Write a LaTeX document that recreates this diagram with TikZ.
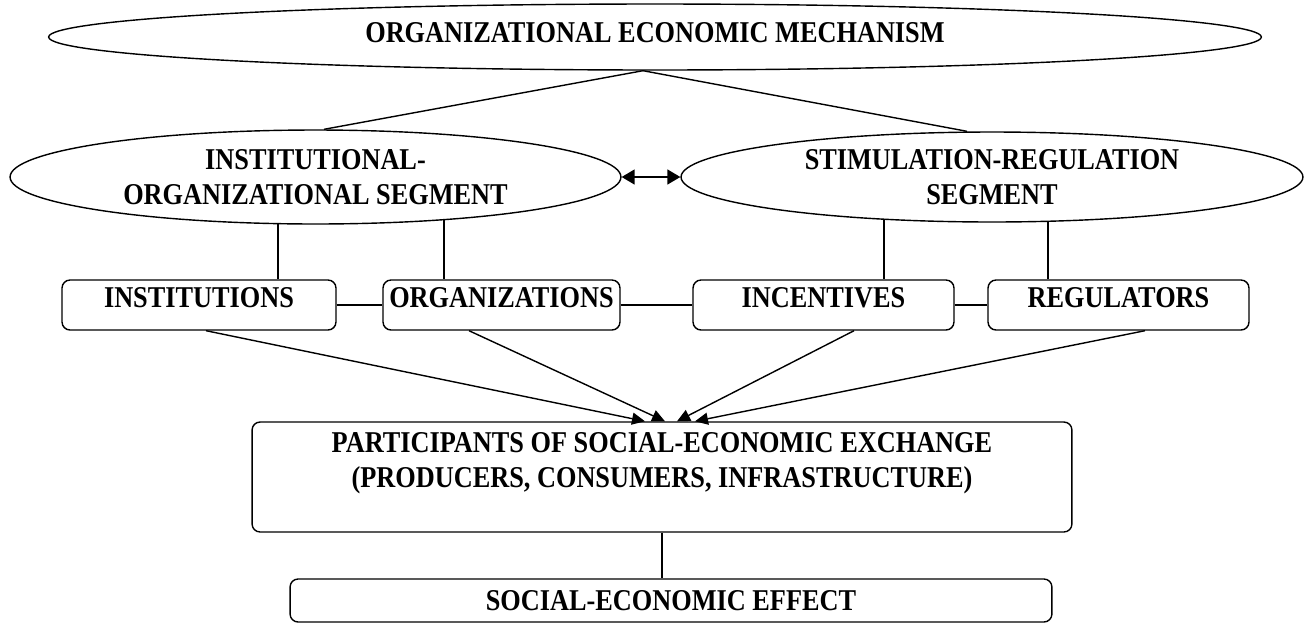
\documentclass[tikz,border=0pt]{standalone}
\usepackage{fontspec}
\setmainfont{Liberation Serif}[FakeStretch=0.87]
\usetikzlibrary{shapes.geometric,arrows.meta}

\begin{document}
\begin{tikzpicture}[x=0.02cm, y=-0.02cm, line width=0.8pt,
        font=\fontsize{17.2pt}{19.6pt}\selectfont\bfseries,
        seg/.style={ellipse, draw, inner sep=0pt, align=center},
        box/.style={rectangle, draw, rounded corners=0.16cm, inner sep=0pt, align=center},
        unit/.style={box, minimum height=1cm, text depth=0.3cm},
        tip/.style={-{Triangle[length=0.26cm, width=0.24cm]}}]
        \useasboundingbox (0,0) rectangle (1306,623);

        % Nodes
        \node (mech) [seg, minimum width=24.26cm, minimum height=1.32cm, text depth=0.2cm] at (655,37) {ORGANIZATIONAL ECONOMIC MECHANISM};
        \node (inst) [seg, minimum width=12.22cm, minimum height=1.88cm] at (315.5,177) {INSTITUTIONAL-\\ORGANIZATIONAL SEGMENT};
        \node (stim) [seg, minimum width=12.44cm, minimum height=1.8cm] at (992,177) {STIMULATION-REGULATION\\SEGMENT};

        \node (institutions) [unit, minimum width=5.48cm] at (199,305) {INSTITUTIONS};
        \node (organizations) [unit, minimum width=4.74cm] at (501.5,305) {ORGANIZATIONS};
        \node (incentives) [unit, minimum width=5.22cm] at (823.5,305) {INCENTIVES};
        \node (regulators) [unit, minimum width=5.22cm] at (1118.5,305) {REGULATORS};

        \node (participants) [box, minimum width=16.4cm, minimum height=2.2cm] at (662,477) {PARTICIPANTS OF SOCIAL-ECONOMIC EXCHANGE\\(PRODUCERS, CONSUMERS, INFRASTRUCTURE)\\ ~};
        \node (effect) [box, minimum width=15.24cm, minimum height=0.86cm] at (671,600.5) {SOCIAL-ECONOMIC EFFECT};

        % feet of the segment lines
        \coordinate (f1) at (278,223.6);
        \coordinate (f2) at (444,219.6);
        \coordinate (f3) at (884,219.2);
        \coordinate (f4) at (1048,221.3);

        % Edges
        \draw ([xshift=-0.24cm]mech.south) -- ([xshift=0.17cm]inst.north);
        \draw ([xshift=-0.24cm]mech.south) -- ([xshift=-0.5cm]stim.north);
        \draw[{Triangle[length=0.26cm, width=0.3cm]}-{Triangle[length=0.26cm, width=0.3cm]}] (inst.east) -- (stim.west);

        \draw (f1) -- (f1 |- institutions.north);
        \draw (f2) -- (f2 |- organizations.north);
        \draw (f3) -- (f3 |- incentives.north);
        \draw (f4) -- (f4 |- regulators.north);

        \draw (institutions.east) -- (organizations.west);
        \draw (organizations.east) -- (incentives.west);
        \draw (incentives.east) -- (regulators.west);

        \draw[tip] ([xshift=0.14cm]institutions.south) -- ([xshift=-0.34cm]participants.north);
        \draw[tip] ([xshift=-0.65cm]organizations.south) -- ([xshift=0.06cm]participants.north);
        \draw[tip] ([xshift=0.61cm]incentives.south) -- ([xshift=0.3cm]participants.north);
        \draw[tip] ([xshift=0.53cm]regulators.south) -- ([xshift=0.66cm]participants.north);

        \draw (participants.south) -- (participants.south |- effect.north);
    \end{tikzpicture}
\end{document}
